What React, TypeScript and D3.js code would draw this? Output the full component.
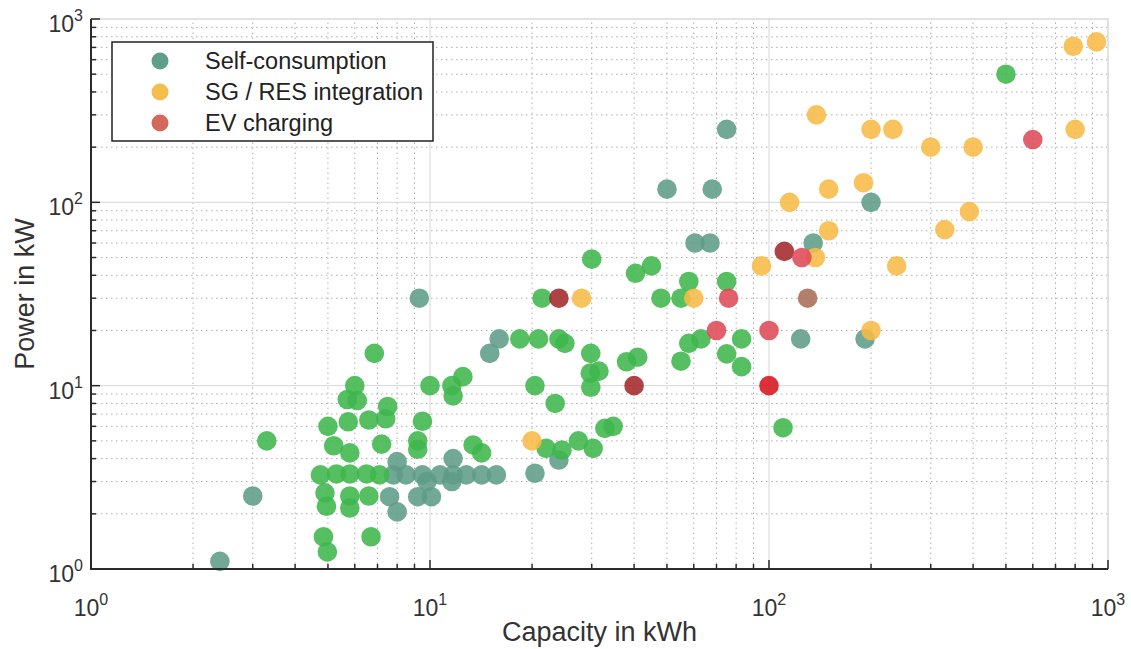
import React, { useRef, useEffect } from "react";
import * as d3 from "d3";

// Self-consumption, grey-green markers
const selfCapA = [2.4, 3, 9.3, 75, 50, 68, 200, 135, 60.5, 67, 124, 192, 16, 15, 8, 11.7, 7.8, 8.5, 9.5, 10.7, 11.7, 12.8, 14.2, 15.7, 9.8, 11.6, 7.6, 8, 9.2, 10.1, 24, 20.4];
const selfPowA = [1.1, 2.5, 30, 250, 118, 118, 100, 60, 60, 60, 18, 18, 18, 15, 3.85, 4.0, 3.26, 3.26, 3.26, 3.26, 3.26, 3.26, 3.26, 3.26, 3.0, 3.0, 2.48, 2.05, 2.48, 2.48, 3.93, 3.33];

// Self-consumption, green markers
const selfCapB = [3.3, 6.85, 10, 11.6, 12.5, 11.7, 6, 5.7, 6.1, 7.5, 7.4, 6.6, 5.74, 5, 9.5, 9.2, 9.2, 7.2, 5.2, 5.8, 4.75, 5.3, 5.8, 6.5, 7.1, 4.9, 4.95, 5.8, 5.8, 6.6, 4.85, 4.98, 6.7, 13.4, 14.2, 21.4, 18.4, 20.9, 24, 25, 29.8, 31.5, 29.7, 29.8, 38, 41, 20.4, 23.4, 22, 24.5, 27.4, 30.3, 32.8, 34.7, 30, 40.4, 45, 58, 75, 48, 55, 58, 63, 83, 55, 75, 83, 110, 500];
const selfPowB = [5, 15, 10, 10, 11.2, 8.8, 10, 8.4, 8.3, 7.7, 6.6, 6.5, 6.35, 6, 6.4, 5, 4.5, 4.8, 4.7, 4.3, 3.26, 3.3, 3.3, 3.3, 3.26, 2.6, 2.2, 2.5, 2.15, 2.5, 1.5, 1.24, 1.5, 4.75, 4.3, 30, 18, 18, 18, 17, 15, 12, 11.7, 9.8, 13.5, 14.3, 10, 8, 4.55, 4.45, 5, 4.55, 5.85, 6, 49, 41, 45, 37, 37, 30, 30, 17, 18, 18, 13.6, 14.9, 12.7, 5.9, 500];

// SG / RES integration
const sgCap = [28, 60, 20, 115, 150, 137, 95, 238, 200, 138, 200, 232, 150, 190, 790, 925, 300, 400, 800, 390, 330];
const sgPow = [30, 30, 5, 100, 70, 50, 45, 45, 20, 300, 250, 250, 118, 128, 710, 750, 200, 200, 250, 89, 71];

// EV charging (four marker shades in the source)
const evCapDark = [24, 40, 111];
const evPowDark = [30, 10, 54];
const evCapBright = [100];
const evPowBright = [10];
const evCapLight = [76, 70, 100, 125, 600];
const evPowLight = [30, 20, 20, 50, 220];
const evCapBrown = [130];
const evPowBrown = [30];

const legendLabels = ["Self-consumption", "SG / RES integration", "EV charging"];
const legendColors = ["#5e9e8a", "#f5bd4c", "#d4685a"];

const groups = [
  { cap: selfCapA, pow: selfPowA, color: "#5e9c88" },
  { cap: selfCapB, pow: selfPowB, color: "#3db64c" },
  { cap: sgCap, pow: sgPow, color: "#f7bb45" },
  { cap: evCapDark, pow: evPowDark, color: "#a3282a" },
  { cap: evCapBright, pow: evPowBright, color: "#d8141f" },
  { cap: evCapLight, pow: evPowLight, color: "#de4a58" },
  { cap: evCapBrown, pow: evPowBrown, color: "#a86c55" },
];

const decades = [1, 10, 100, 1000];
const expo = ["0", "1", "2", "3"];

function App() {
  const svgRef = useRef(null);

  useEffect(() => {
    const svg = d3.select(svgRef.current);
    svg.selectAll("*").remove();

    const x = d3.scaleLog().domain([1, 1000]).range([91, 1108]);
    const y = d3.scaleLog().domain([1, 1000]).range([569, 19]);
    const [x0, x1] = x.range();
    const [y0, y1] = y.range();

    const minor: number[] = [];
    [1, 10, 100].forEach((d) => {
      for (let k = 2; k <= 9; k++) minor.push(d * k);
    });

    const g = svg.append("g");

    // minor grid (dotted)
    g.selectAll(".mgx")
      .data(minor)
      .join("line")
      .attr("x1", (d) => x(d))
      .attr("x2", (d) => x(d))
      .attr("y1", y0)
      .attr("y2", y1)
      .attr("stroke", "#b0b0b0")
      .attr("stroke-width", 1)
      .attr("stroke-dasharray", "1.5,3.5");
    g.selectAll(".mgy")
      .data(minor)
      .join("line")
      .attr("y1", (d) => y(d))
      .attr("y2", (d) => y(d))
      .attr("x1", x0)
      .attr("x2", x1)
      .attr("stroke", "#b0b0b0")
      .attr("stroke-width", 1)
      .attr("stroke-dasharray", "1.5,3.5");

    // major grid
    g.selectAll(".Mgx")
      .data([10, 100])
      .join("line")
      .attr("x1", (d) => x(d))
      .attr("x2", (d) => x(d))
      .attr("y1", y0)
      .attr("y2", y1)
      .attr("stroke", "#d6d6d6");
    g.selectAll(".Mgy")
      .data([10, 100])
      .join("line")
      .attr("y1", (d) => y(d))
      .attr("y2", (d) => y(d))
      .attr("x1", x0)
      .attr("x2", x1)
      .attr("stroke", "#d6d6d6");

    // box top/right
    g.append("path")
      .attr("d", `M${x0},${y1}H${x1}V${y0}`)
      .attr("fill", "none")
      .attr("stroke", "#d9d9d9")
      .attr("stroke-width", 1.5);

    // points
    groups.forEach((grp) => {
      g.append("g")
        .selectAll("circle")
        .data(grp.cap.map((c, i) => [c, grp.pow[i]]))
        .join("circle")
        .attr("cx", (d) => x(d[0]))
        .attr("cy", (d) => y(d[1]))
        .attr("r", 9.8)
        .attr("fill", grp.color)
        .attr("fill-opacity", 0.88);
    });

    // axes lines
    g.append("path")
      .attr("d", `M${x0},${y1}V${y0}H${x1}`)
      .attr("fill", "none")
      .attr("stroke", "#2b2b2b")
      .attr("stroke-width", 2);

    // ticks (inward)
    g.selectAll(".tx")
      .data(minor)
      .join("line")
      .attr("x1", (d) => x(d))
      .attr("x2", (d) => x(d))
      .attr("y1", y0)
      .attr("y2", y0 - 5)
      .attr("stroke", "#2b2b2b")
      .attr("stroke-width", 1.5);
    g.selectAll(".txM")
      .data(decades)
      .join("line")
      .attr("x1", (d) => x(d))
      .attr("x2", (d) => x(d))
      .attr("y1", y0)
      .attr("y2", y0 - 9)
      .attr("stroke", "#2b2b2b")
      .attr("stroke-width", 1.5);
    g.selectAll(".ty")
      .data(minor)
      .join("line")
      .attr("y1", (d) => y(d))
      .attr("y2", (d) => y(d))
      .attr("x1", x0)
      .attr("x2", x0 + 5)
      .attr("stroke", "#2b2b2b")
      .attr("stroke-width", 1.5);
    g.selectAll(".tyM")
      .data(decades)
      .join("line")
      .attr("y1", (d) => y(d))
      .attr("y2", (d) => y(d))
      .attr("x1", x0)
      .attr("x2", x0 + 9)
      .attr("stroke", "#2b2b2b")
      .attr("stroke-width", 1.5);

    const font = "Liberation Sans, Arial, sans-serif";

    // tick labels
    const xl = g
      .selectAll(".xl")
      .data(decades)
      .join("text")
      .attr("x", (d) => x(d))
      .attr("y", y0 + 47)
      .attr("text-anchor", "middle")
      .attr("font-family", font)
      .attr("font-size", 23)
      .attr("fill", "#333");
    xl.append("tspan").text("10");
    xl.append("tspan")
      .attr("dy", -11)
      .attr("font-size", 16)
      .text((d, i) => expo[i]);

    const yl = g
      .selectAll(".yl")
      .data(decades)
      .join("text")
      .attr("x", x0 - 8)
      .attr("y", (d) => y(d) + 13)
      .attr("text-anchor", "end")
      .attr("font-family", font)
      .attr("font-size", 23)
      .attr("fill", "#333");
    yl.append("tspan").text("10");
    yl.append("tspan")
      .attr("dy", -11)
      .attr("font-size", 16)
      .text((d, i) => expo[i]);

    // axis titles
    g.append("text")
      .attr("x", (x0 + x1) / 2)
      .attr("y", 641)
      .attr("text-anchor", "middle")
      .attr("font-family", font)
      .attr("font-size", 27)
      .attr("fill", "#333")
      .text("Capacity in kWh");
    g.append("text")
      .attr("transform", `translate(34,${(y0 + y1) / 2}) rotate(-90)`)
      .attr("text-anchor", "middle")
      .attr("font-family", font)
      .attr("font-size", 27)
      .attr("fill", "#333")
      .text("Power in kW");

    // legend
    const lg = g.append("g");
    lg.append("rect")
      .attr("x", 112)
      .attr("y", 42)
      .attr("width", 321)
      .attr("height", 99)
      .attr("fill", "#fff")
      .attr("stroke", "#222")
      .attr("stroke-width", 1.5);
    const rows = lg
      .selectAll(".lr")
      .data(legendLabels)
      .join("g")
      .attr("transform", (d, i) => `translate(0,${61 + i * 31})`);
    rows
      .append("circle")
      .attr("cx", 160)
      .attr("cy", 0)
      .attr("r", 8.5)
      .attr("fill", (d, i) => legendColors[i]);
    rows
      .append("text")
      .attr("x", 205)
      .attr("y", 8)
      .attr("font-family", font)
      .attr("font-size", 23.5)
      .attr("fill", "#222")
      .text((d) => d);
  }, []);

  return (
    <svg
      ref={svgRef}
      width={1131}
      height={649}
      style={{ position: "absolute", left: 0, top: 0, background: "#fff" }}
    ></svg>
  );
}

export default App;
